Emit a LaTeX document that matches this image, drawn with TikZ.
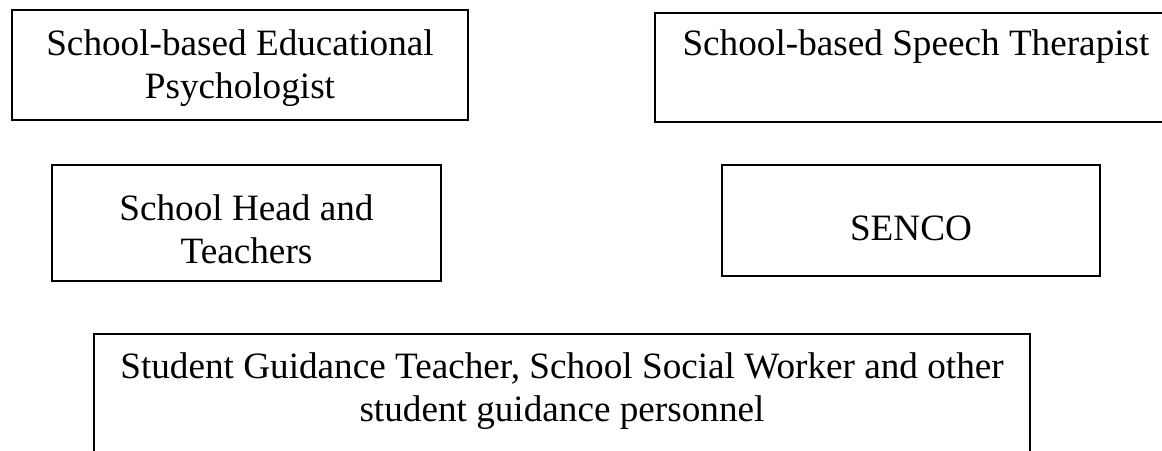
\documentclass[tikz,border=0pt]{standalone}
\usepackage{fontspec}
\setmainfont{Liberation Serif}

\begin{document}
\begin{tikzpicture}[x=0.5pt,y=-0.5pt,
  box/.style={draw, line width=1.15pt, align=center, inner sep=0pt, anchor=base,
    font=\fontsize{18.6pt}{21.5pt}\selectfont}]
\useasboundingbox (0,0) rectangle (1162,450);
\clip (0,0) rectangle (1162,450);
\node[box, minimum width=228pt, text height=44pt, text depth=11pt](B1) at (240,98){School-based Educational\\Psychologist};
\node[box, minimum width=261pt, text height=21pt, text depth=33.5pt](B2) at (916,55){School-based Speech Therapist};
\node[box, minimum width=194.5pt, text height=49pt, text depth=9pt](B3) at (246.5,263){School Head and\\Teachers};
\node[box, minimum width=189pt, text height=37.5pt, text depth=18pt](B4) at (911,240){SENCO};
\node[box, minimum width=468pt, text height=43.5pt, text depth=24.5pt](B5) at (562,421){Student Guidance Teacher, School Social Worker and other\\student guidance personnel};
\end{tikzpicture}
\end{document}
